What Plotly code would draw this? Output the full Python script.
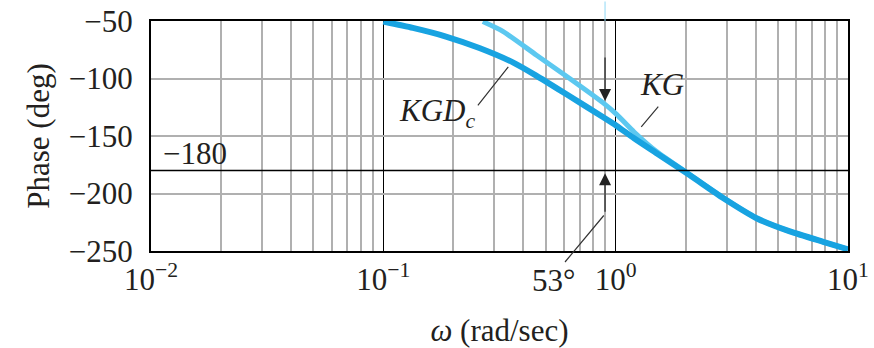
import math
import plotly.graph_objects as go

# ---- data ----
kgdc_w = [0.1, 0.134, 0.186, 0.259, 0.361, 0.455, 0.634, 0.881, 1.007, 1.2, 1.5, 2.08, 2.9, 4.04, 5.62, 7.82, 10.0]
kgdc_phase = [-50.5, -56, -63.5, -73.5, -86, -97.5, -115.5, -133.5, -141, -152, -165, -184, -204, -221.5, -233, -242, -248.5]

kg_w = [0.268, 0.327, 0.455, 0.634, 0.881, 1.007, 1.2, 1.5, 2.08, 2.9, 4.04, 5.62, 7.82, 10.0]
kg_phase = [-50.5, -59, -79.5, -100, -121, -131, -146.5, -163.5, -183.5, -203.5, -221.5, -233, -242, -248.5]

x_tickvals = [0.01, 0.1, 1, 10]
x_ticktext = ["10<sup>−2</sup>", "10<sup>−1</sup>", "10<sup>0</sup>", "10<sup>1</sup>"]
y_tickvals = [-250, -200, -150, -100, -50]
minor_vals = [k * 10.0 ** d for d in (-2, -1, 0) for k in range(2, 10)]

REF_PHASE = -180
CROSSOVER_W = 0.9
PM_LABEL = "53°"

FONT = "Liberation Serif"
TXT = "#231f20"
DARK = "#18a3e1"
LIGHT = "#5cc8f0"
GRID = "#b0b0b0"

fig = go.Figure()
fig.add_trace(go.Scatter(x=kg_w, y=kg_phase, mode="lines", name="KG",
                         line=dict(color=LIGHT, width=5, shape="spline", smoothing=0.6)))
fig.add_trace(go.Scatter(x=kgdc_w, y=kgdc_phase, mode="lines", name="KGDc",
                         line=dict(color=DARK, width=6, shape="spline", smoothing=0.6)))

fig.add_shape(type="line", xref="paper", x0=0, x1=1, yref="y", y0=REF_PHASE, y1=REF_PHASE,
              line=dict(color="black", width=1.5), layer="above")

xc = (math.log10(CROSSOVER_W) + 2) / 3.0  # paper position of crossover

ann = []
ann.append(dict(text="−180", xref="paper", x=0.0143, xanchor="left", yref="y", y=REF_PHASE,
                yanchor="bottom", yshift=-2, showarrow=False, font=dict(family=FONT, size=31, color=TXT)))
ann.append(dict(text="<i>KGD<sub>c</sub></i>", xref="paper", x=0.353, xanchor="left", yref="paper", y=0.6,
                yanchor="middle", showarrow=False, font=dict(family=FONT, size=31, color=TXT)))
ann.append(dict(text="<i>KG</i>", xref="paper", x=0.733, xanchor="center", yref="paper", y=0.722,
                yanchor="middle", showarrow=False, font=dict(family=FONT, size=31, color=TXT)))
ann.append(dict(text=PM_LABEL, xref="paper", x=0.577, xanchor="center", yref="paper", y=-0.13,
                yanchor="middle", showarrow=False, font=dict(family=FONT, size=31, color=TXT)))
# leader lines
ann.append(dict(text="", xref="paper", x=0.5126, yref="paper", y=0.801, showarrow=True, arrowhead=0,
                ax=-31.6, ay=40, arrowwidth=1.2, arrowcolor="#333333"))
ann.append(dict(text="", xref="paper", x=0.7278, yref="paper", y=0.6274, showarrow=True, arrowhead=0,
                ax=-18.3, ay=21.6, arrowwidth=1.2, arrowcolor="#333333"))
# phase margin arrows
ann.append(dict(text="", xref="paper", x=xc, yref="paper", y=0.652, showarrow=True, arrowhead=2,
                arrowsize=2, ax=0, ay=-45, arrowwidth=1.2, arrowcolor="#222222"))
ann.append(dict(text="", xref="paper", x=xc, yref="paper", y=0.338, showarrow=True, arrowhead=2,
                arrowsize=2, ax=0, ay=40, arrowwidth=1.2, arrowcolor="#222222"))
ann.append(dict(text="", xref="paper", x=0.594, yref="paper", y=-0.0478, showarrow=True, arrowhead=0,
                ax=(xc - 0.594) * 697, ay=-48, arrowwidth=1.2, arrowcolor="#333333"))
ann.append(dict(text="", xref="paper", x=xc, yref="paper", y=1.0, showarrow=True, arrowhead=0,
                ax=0, ay=-21, arrowwidth=1, arrowcolor="#8fd8f5"))

fig.update_layout(
    width=874, height=348,
    margin=dict(l=151, r=26, t=21, b=97, autoexpand=False),
    paper_bgcolor="white", plot_bgcolor="white",
    showlegend=False,
    font=dict(family=FONT, size=31, color=TXT),
    annotations=ann,
    xaxis=dict(type="log", range=[-2, 1], tickmode="array", tickvals=x_tickvals, ticktext=x_ticktext,
               showgrid=True, gridcolor="black", gridwidth=1.3, zeroline=False, automargin=False,
               showline=True, mirror=True, linecolor="black", linewidth=2, ticks="",
               ticklabeloverflow="allow",
               tickfont=dict(family=FONT, size=31, color=TXT), ticklabelstandoff=0,
               minor=dict(tickvals=minor_vals, showgrid=True, gridcolor=GRID, gridwidth=1.5, ticks=""),
               title=dict(text="<i>ω</i> (rad/sec)", font=dict(family=FONT, size=31, color=TXT), standoff=29)),
    yaxis=dict(range=[-250, -50], tickmode="array", tickvals=y_tickvals, automargin=False,
               showgrid=True, gridcolor=GRID, gridwidth=1.5, zeroline=False,
               showline=True, mirror=True, linecolor="black", linewidth=2, ticks="",
               ticklabeloverflow="allow",
               tickfont=dict(family=FONT, size=31, color=TXT), ticklabelstandoff=10,
               title=dict(text="Phase (deg)", font=dict(family=FONT, size=31, color=TXT), standoff=10)),
)

# remove the browser's default 8px body margin so the figure sits at the page origin
fig.write_html("out.html", config={"displayModeBar": False},
               post_script="document.body.style.margin='0';document.body.style.overflow='hidden';")
